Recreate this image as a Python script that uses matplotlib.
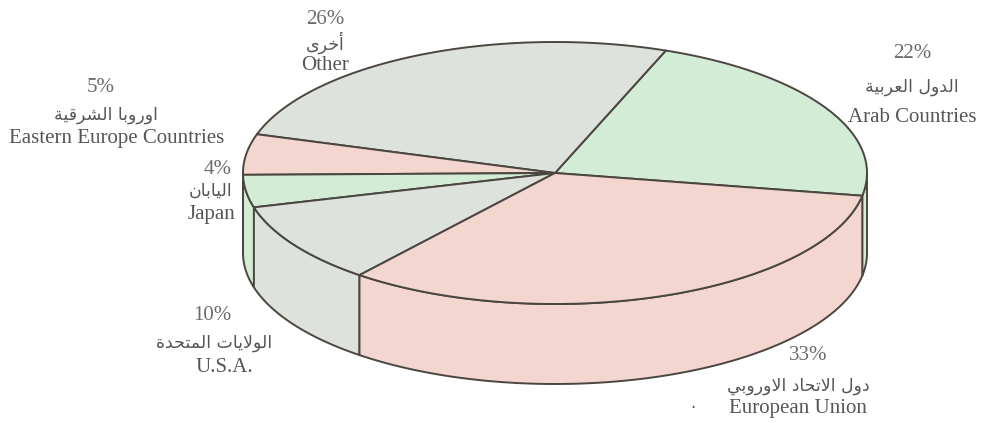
import numpy as np
import matplotlib.pyplot as plt
from matplotlib.patches import Polygon

# slice data, counter-clockwise from the right
shares = [22, 26, 5, 4, 10, 33]
names_en = ['Arab Countries', 'Other', 'Eastern Europe Countries', 'Japan', 'U.S.A.', 'European Union']
names_ar = ['الدول العربية', 'أخرى', 'اوروبا الشرقية', 'اليابان', 'الولايات المتحدة', 'دول الاتحاد الاوروبي']
colours = ['#d3ecd6', '#dde2dd', '#f3d6cf', '#d3ecd6', '#dde2dd', '#f3d6cf']

# label line positions in pixels (percent, arabic, english)
pct_pos = [(912, 53), (325, 19), (101, 87), (218, 170), (212, 315), (808, 355)]
ar_pos = [(912, 87), (325, 43), (106, 115), (211, 191), (214, 343), (798, 386)]
en_pos = [(912, 118), (325, 66), (117, 138), (212, 214), (224, 368), (798, 409)]

start_angle = -10.0
cx, cy = 555, 173
a, b = 312, 131
depth = 80
edge = '#4b4640'
text_col = '#555555'

# --- minimal arabic shaping (matplotlib has no complex text layout) ---
FORMS = {
    'ا': (0xFE8D, 0xFE8E), 'أ': (0xFE83, 0xFE84), 'ة': (0xFE93, 0xFE94),
    'د': (0xFEA9, 0xFEAA), 'ر': (0xFEAD, 0xFEAE), 'و': (0xFEED, 0xFEEE),
    'ى': (0xFEEF, 0xFEF0),
    'ب': (0xFE8F, 0xFE90, 0xFE91, 0xFE92), 'ت': (0xFE95, 0xFE96, 0xFE97, 0xFE98),
    'ح': (0xFEA1, 0xFEA2, 0xFEA3, 0xFEA4), 'خ': (0xFEA5, 0xFEA6, 0xFEA7, 0xFEA8),
    'ش': (0xFEB5, 0xFEB6, 0xFEB7, 0xFEB8), 'ع': (0xFEC9, 0xFECA, 0xFECB, 0xFECC),
    'ق': (0xFED5, 0xFED6, 0xFED7, 0xFED8), 'ل': (0xFEDD, 0xFEDE, 0xFEDF, 0xFEE0),
    'م': (0xFEE1, 0xFEE2, 0xFEE3, 0xFEE4), 'ن': (0xFEE5, 0xFEE6, 0xFEE7, 0xFEE8),
    'ي': (0xFEF1, 0xFEF2, 0xFEF3, 0xFEF4),
    'لا': (0xFEFB, 0xFEFC), 'لأ': (0xFEF7, 0xFEF8),
}


def shape_arabic(s):
    tokens = []
    i = 0
    while i < len(s):
        if s[i] == 'ل' and i + 1 < len(s) and s[i + 1] in 'اأ':
            tokens.append(s[i:i + 2])
            i += 2
        else:
            tokens.append(s[i])
            i += 1
    out = []
    for k, t in enumerate(tokens):
        if t not in FORMS:
            out.append(t)
            continue
        f = FORMS[t]
        prev = tokens[k - 1] if k > 0 else None
        nxt = tokens[k + 1] if k + 1 < len(tokens) else None
        j_prev = prev in FORMS and len(FORMS[prev]) == 4
        j_next = len(f) == 4 and nxt in FORMS
        if j_prev and j_next:
            out.append(chr(f[3]))
        elif j_prev:
            out.append(chr(f[1]))
        elif j_next:
            out.append(chr(f[2]))
        else:
            out.append(chr(f[0]))
    return ''.join(reversed(out))


def arc(t0, t1, dy=0):
    t = np.radians(np.linspace(t0, t1, 120))
    return np.column_stack([cx + a * np.cos(t), cy - b * np.sin(t) + dy])


fig = plt.figure(figsize=(9.85, 4.23), dpi=100)
ax = fig.add_axes([0, 0, 1, 1])
ax.set_xlim(0, 985)
ax.set_ylim(423, 0)
ax.axis('off')

bounds = start_angle + 360 * np.concatenate([[0], np.cumsum(shares)]) / sum(shares)

# side walls (front half only)
for i in range(len(shares)):
    t0, t1 = bounds[i], bounds[i + 1]
    for lo, hi in [(180, 360), (-180, 0)]:
        s0, s1 = max(t0, lo), min(t1, hi)
        if s1 <= s0:
            continue
        top = arc(s0, s1)
        bot = arc(s0, s1, depth)[::-1]
        ax.add_patch(Polygon(np.vstack([top, bot]), closed=True, facecolor=colours[i],
                             edgecolor=edge, linewidth=1.4, joinstyle='round'))

# top faces
for i in range(len(shares)):
    pts = np.vstack([[cx, cy], arc(bounds[i], bounds[i + 1])])
    ax.add_patch(Polygon(pts, closed=True, facecolor=colours[i],
                         edgecolor=edge, linewidth=1.4, joinstyle='round'))

# labels
for i in range(len(shares)):
    ax.text(*pct_pos[i], '%d%%' % shares[i], ha='center', va='center', fontsize=15,
            family='Liberation Serif', color='#6a6a6a')
    ax.text(*ar_pos[i], shape_arabic(names_ar[i]), ha='center', va='center', fontsize=12.5,
            family='DejaVu Sans', color=text_col)
    ax.text(*en_pos[i], names_en[i], ha='center', va='center', fontsize=15,
            family='Liberation Serif', color=text_col)

ax.text(693, 408, '·', ha='center', va='center', fontsize=12, color=text_col)

fig.savefig('out.png', dpi=100)
